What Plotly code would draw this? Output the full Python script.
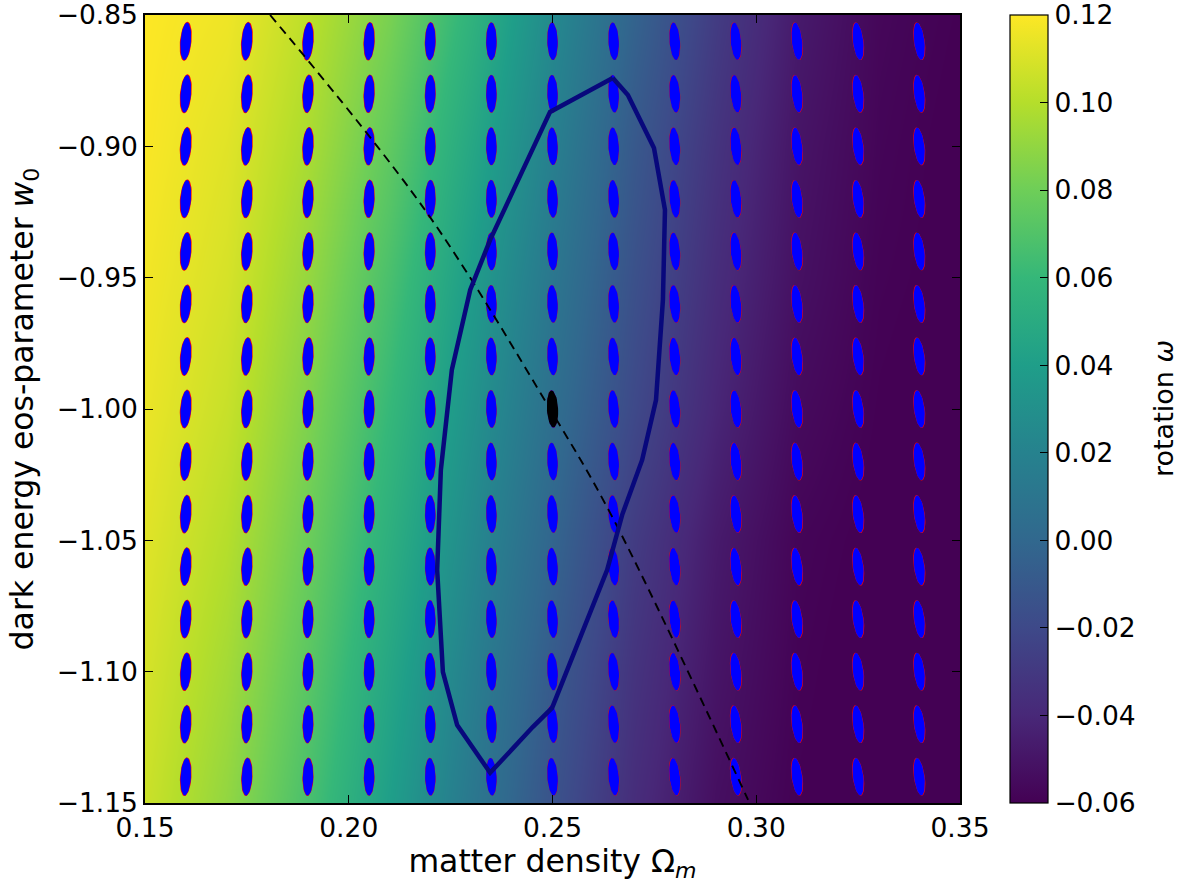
import numpy as np
import plotly.graph_objects as go

# ---- data ----
# coarse sample grid of the rotation field (heatmap)
om_grid = [0.15, 0.17, 0.19, 0.21, 0.23, 0.25, 0.27, 0.29, 0.31, 0.33, 0.35]
w_grid = [-1.15, -1.10, -1.05, -1.00, -0.95, -0.90, -0.85]
omega_table = [
    [0.106, 0.090, 0.067, 0.040, 0.012, -0.014, -0.037, -0.053, -0.060, -0.062, -0.062],
    [0.109, 0.095, 0.073, 0.046, 0.018, -0.009, -0.033, -0.050, -0.059, -0.062, -0.062],
    [0.112, 0.100, 0.079, 0.053, 0.025, -0.002, -0.028, -0.047, -0.058, -0.061, -0.062],
    [0.115, 0.105, 0.085, 0.060, 0.032, 0.005, -0.020, -0.041, -0.055, -0.060, -0.062],
    [0.117, 0.109, 0.091, 0.067, 0.039, 0.011, -0.015, -0.037, -0.052, -0.059, -0.061],
    [0.119, 0.112, 0.097, 0.075, 0.047, 0.018, -0.010, -0.033, -0.050, -0.058, -0.061],
    [0.120, 0.116, 0.102, 0.083, 0.056, 0.025, -0.003, -0.028, -0.047, -0.057, -0.060],
]

# positions of the ellipse grid
ell_om = [0.16, 0.175, 0.19, 0.205, 0.22, 0.235, 0.25, 0.265, 0.28, 0.295, 0.31, 0.325, 0.34]
ell_w = [-1.14, -1.12, -1.10, -1.08, -1.06, -1.04, -1.02, -1.00, -0.98, -0.96, -0.94, -0.92, -0.90, -0.88, -0.86]

# confidence contour
contour_om = [0.2648, 0.2685, 0.2749, 0.2776, 0.2771, 0.2754, 0.2720, 0.2671, 0.2634, 0.2499,
              0.2452, 0.2347, 0.2266, 0.2231, 0.2217, 0.2226, 0.2253, 0.2298, 0.2347, 0.2494, 0.2648]
contour_w = [-0.8740, -0.8805, -0.9006, -0.9242, -0.9585, -0.9966, -1.0194, -1.0403, -1.0613, -1.1138,
             -1.1210, -1.1385, -1.1203, -1.1001, -1.0613, -1.0232, -0.9851, -0.9547, -0.9356, -0.8869, -0.8740]

# degeneracy line (dashed)
degen_om = [0.1807, 0.2187, 0.2494, 0.2644, 0.2980]
degen_w = [-0.8500, -0.9242, -1.0000, -1.0403, -1.1488]

# fiducial point
fid_om, fid_w = 0.25, -1.00

x_ticks = [0.15, 0.20, 0.25, 0.30, 0.35]
y_ticks = [-1.15, -1.10, -1.05, -1.00, -0.95, -0.90, -0.85]
cb_ticks = [-0.06, -0.04, -0.02, 0.00, 0.02, 0.04, 0.06, 0.08, 0.10, 0.12]


def fmt(v):
    s = f"{v:.2f}"
    return s.replace("-", "\u2212")


# ---- geometry helpers ----
W, H = 1184, 887
ML, MT = 145, 15
PW, PH = 815, 788
MR = W - ML - PW
MB = H - MT - PH
pxx = PW / (0.35 - 0.15)
pxy = PH / (1.15 - 0.85)
EPS = 1e-7

tab = np.array(omega_table)


def omega_at(x, y):
    col = np.array([np.interp(x, om_grid, tab[i]) for i in range(len(w_grid))])
    return float(np.interp(y, w_grid, col))


def ellipse(cx, cy, a, b, theta_deg, n=48):
    t = np.linspace(0, 2 * np.pi, n)
    th = np.radians(theta_deg)
    dx = a * np.cos(t) * np.cos(th) + b * np.sin(t) * np.sin(th)
    dy = -a * np.cos(t) * np.sin(th) + b * np.sin(t) * np.cos(th)
    return list(cx + dx / pxx), list(cy + dy / pxy)


bx, by, rx, ry = [], [], [], []
for xc in ell_om:
    for yc in ell_w:
        om = omega_at(xc, yc)
        th = 65 * om - 3
        ex, ey = ellipse(xc, yc, 5.2, 18.8, th)
        bx += ex + [None]
        by += ey + [None]
        fr_a = 1 + 1.0 * abs(om)
        fr_b = 1 + 0.35 * abs(om)
        ex, ey = ellipse(xc, yc, 5.2 * fr_a, 18.8 * fr_b, th * 1.2)
        rx += ex + [None]
        ry += ey + [None]

fx, fy = ellipse(fid_om, fid_w, 5.6, 18.5, -3)

FONT = "DejaVu Sans"
TICK = 26.5
TITLE = 31.5
fig = go.Figure()
fig.add_trace(go.Heatmap(
    x=om_grid, y=w_grid, z=omega_table, zsmooth="best",
    colorscale="Viridis", zmin=-0.06 - EPS, zmax=0.12 + EPS,
    colorbar=dict(
        x=(1010 - ML) / PW, xanchor="left", xpad=0, y=0.5, yanchor="middle", ypad=0,
        len=1, lenmode="fraction", thickness=38, thicknessmode="pixels",
        outlinecolor="black", outlinewidth=1.2,
        tickvals=cb_ticks, ticktext=[fmt(v) for v in cb_ticks],
        ticks="inside", ticklen=8, tickcolor="black", ticklabeloverflow="allow",
        tickfont=dict(family=FONT, size=TICK, color="black"),
    ),
    hoverinfo="skip",
))
fig.add_trace(go.Scatter(x=rx, y=ry, mode="lines", fill="toself", fillcolor="red",
                         line=dict(color="red", width=0), hoverinfo="skip", showlegend=False))
fig.add_trace(go.Scatter(x=bx, y=by, mode="lines", fill="toself", fillcolor="blue",
                         line=dict(color="blue", width=0), hoverinfo="skip", showlegend=False))
fig.add_trace(go.Scatter(x=fx, y=fy, mode="lines", fill="toself", fillcolor="black",
                         line=dict(color="black", width=0), hoverinfo="skip", showlegend=False))
fig.add_trace(go.Scatter(x=degen_om, y=degen_w, mode="lines", line_shape="spline",
                         line=dict(color="black", width=1.9, dash="9px,6px"),
                         hoverinfo="skip", showlegend=False))
fig.add_trace(go.Scatter(x=contour_om, y=contour_w, mode="lines",
                         line=dict(color="#08087c", width=4.5),
                         hoverinfo="skip", showlegend=False))

# colorbar label placed as a rotated annotation, right of the tick labels
fig.add_annotation(text="rotation <i>ω</i>", xref="paper", yref="paper",
                   x=(1163 - ML) / PW, y=0.5, xanchor="center", yanchor="middle",
                   textangle=-90, showarrow=False, borderpad=0,
                   font=dict(family=FONT, size=27, color="black"))

axis_common = dict(
    showgrid=False, zeroline=False, showline=True, linecolor="black", linewidth=1.5,
    mirror="allticks", ticks="inside", ticklen=8, tickwidth=1, tickcolor="black",
    ticklabeloverflow="allow",
    tickfont=dict(family=FONT, size=TICK, color="black"),
)
fig.update_xaxes(range=[0.15 - EPS, 0.35 + EPS], tickvals=x_ticks, ticktext=[fmt(v) for v in x_ticks],
                 title=dict(text="matter density Ω<sub><i>m</i></sub>", standoff=7,
                            font=dict(family=FONT, size=TITLE, color="black")),
                 **axis_common)
fig.update_yaxes(range=[-1.15 - EPS, -0.85 + EPS], tickvals=y_ticks, ticktext=[fmt(v) for v in y_ticks],
                 title=dict(text="dark energy eos-parameter <i>w</i><sub>0</sub>", standoff=14,
                            font=dict(family=FONT, size=TITLE, color="black")),
                 **axis_common)
fig.update_layout(
    width=W, height=H, margin=dict(l=ML, r=MR, t=MT, b=MB, autoexpand=False),
    paper_bgcolor="white", plot_bgcolor="white", showlegend=False,
    font=dict(family=FONT, color="black"),
)
fig.write_html("out.html", config={"displayModeBar": False},
               post_script="document.body.style.margin='0px';")
